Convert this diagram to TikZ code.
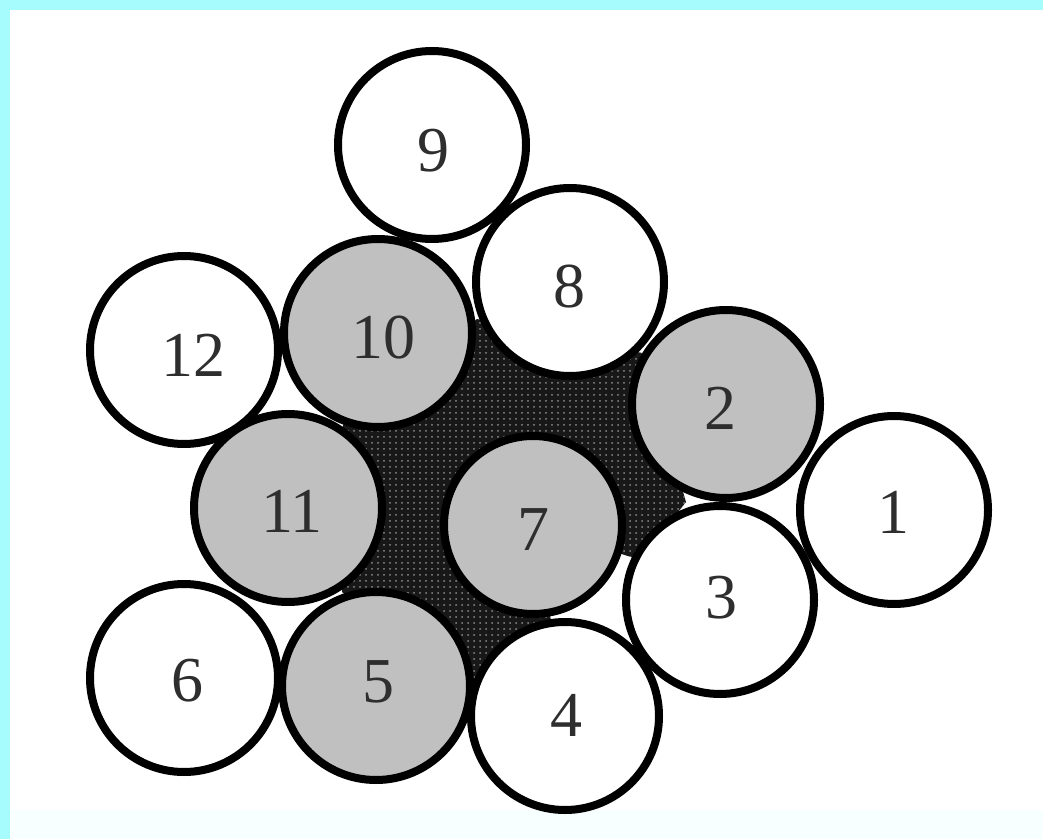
\documentclass[tikz,border=0pt]{standalone}
\usepackage{fontspec}
\setmainfont{Liberation Serif}
\usetikzlibrary{patterns}
\definecolor{cyanband}{RGB}{166,252,252}
\definecolor{paleband}{RGB}{247,255,255}
\definecolor{wiregray}{RGB}{192,192,192}
\definecolor{fillerdark}{RGB}{24,24,24}
\begin{document}
\begin{tikzpicture}[x=0.5pt,y=-0.5pt,
  wire/.style={circle,draw=black,line width=4pt,minimum size=94pt,inner sep=0pt},
  white wire/.style={wire,fill=white},
  gray wire/.style={wire,fill=wiregray},
  numlabel/.style={inner sep=0pt,font=\fontsize{32}{34}\selectfont,text=black!82}]
\useasboundingbox (0,0) rectangle (1043,839);
\fill[white] (0,0) rectangle (1043,839);
\fill[paleband] (0,810) rectangle (1043,839);
\fill[cyanband] (0,0) rectangle (1043,10);
\fill[cyanband] (0,0) rectangle (10,839);
% filler between the wires
\coordinate (fA) at (477,319);
\coordinate (fB) at (642,353);
\coordinate (fC) at (686,502);
\coordinate (fD) at (640,560);
\coordinate (fM) at (533,525);
\coordinate (fE) at (552,626);
\coordinate (fF) at (470,692);
\coordinate (fG) at (342,592);
\coordinate (fH) at (343,425);
\fill[fillerdark] (fA) -- (fB) -- (fC) -- (fD) -- (fM) -- (fE) -- (fF) -- (fG) -- (fH) -- cycle;
\fill[pattern=dots,pattern color=black!45] (fA) -- (fB) -- (fC) -- (fD) -- (fM) -- (fE) -- (fF) -- (fG) -- (fH) -- cycle;
% wires
\node[white wire] (c9) at (432,145) {};
\node[white wire] (c8) at (570,282) {};
\node[white wire] (c12) at (184,350) {};
\node[gray wire] (c10) at (378,333) {};
\node[gray wire] (c2) at (726,404) {};
\node[white wire] (c1) at (894,510) {};
\node[gray wire] (c11) at (288,508) {};
\node[gray wire,minimum size=89pt] (c7) at (533,525) {};
\node[white wire] (c3) at (720,600) {};
\node[white wire] (c6) at (184,678) {};
\node[gray wire] (c5) at (376,686) {};
\node[white wire] (c4) at (565,716) {};
% numbers
\node[numlabel] (t1) at (893,512) {1};
\node[numlabel] (t2) at (720,408) {2};
\node[numlabel] (t3) at (721,598) {3};
\node[numlabel] (t4) at (566,715) {4};
\node[numlabel] (t5) at (378,682) {5};
\node[numlabel] (t6) at (187,681) {6};
\node[numlabel] (t7) at (533,530) {7};
\node[numlabel] (t8) at (569,287) {8};
\node[numlabel] (t9) at (433,151) {9};
\node[numlabel] (t10) at (383,338) {10};
\node[numlabel] (t11) at (292,511) {11};
\node[numlabel] (t12) at (193,355) {12};
\end{tikzpicture}
\end{document}
